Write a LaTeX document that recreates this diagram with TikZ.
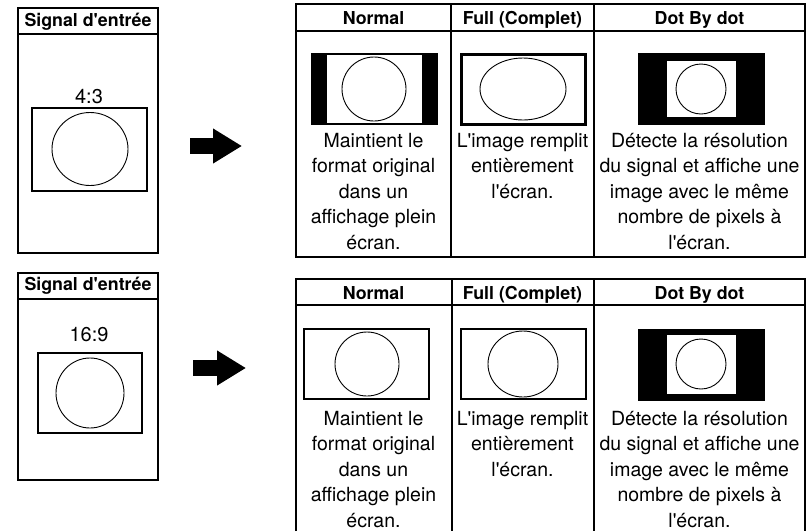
\documentclass[tikz,border=0pt]{standalone}
\usepackage{fontspec}
\setmainfont{TeX Gyre Heros}
\usetikzlibrary{arrows.meta}
\newcommand\ap{\textquotesingle}
\tikzset{
  hdr/.style={font=\bfseries\fontsize{17.8}{20}\selectfont, inner sep=0pt, anchor=base},
  txt/.style={font=\fontsize{19.5}{25.5}\selectfont, align=center, inner sep=0pt, anchor=north},
  rat/.style={font=\fontsize{20}{24}\selectfont, inner sep=0pt, anchor=base},
  frm/.style={draw=black, line width=1.7pt},
  scr/.style={draw=black, line width=2.4pt, fill=white},
  crc/.style={draw=black, line width=0.9pt},
  bigarr/.style={line width=16pt, -{Triangle[length=29pt,width=33pt]}}
}

\begin{document}
\begin{tikzpicture}[x=1pt, y=-1pt]
\useasboundingbox (0,0) rectangle (807,531);

% --- 4:3 input ---
\draw[frm] (18,8) rectangle (158,253) (18,34) -- (158,34);
\node[hdr] (sig1) at (88,26) {Signal d\ap entrée};
\node[rat] (rat1) at (89,103) {4:3};
\draw[scr] (32,108) rectangle (147,191);
\draw[crc] (90,149) ellipse [x radius=38, y radius=36.5];

\coordinate (a1s) at (190,146);
\coordinate (a1e) at (242,146);
\draw[bigarr] (a1s) -- (a1e);

% table 1
\draw[frm] (296,4) rectangle (805,257);
\draw[line width=2.4pt] (296,4) -- (805,4);
\draw[frm] (296,31) -- (805,31) (451,4) -- (451,257) (594,4) -- (594,257);
\node[hdr] (hN1) at (373.5,24) {Normal};
\node[hdr] (hF1) at (522.5,24) {Full (Complet)};
\node[hdr] (hD1) at (699.5,24) {Dot By dot};

\fill (311,53) rectangle (438,125);
\fill[white] (327,55) rectangle (422,123);
\draw[crc] (374,89) circle [radius=32];
\draw[scr, line width=3pt] (461,54) rectangle (585,124);
\draw[crc] (523,89) ellipse [x radius=43, y radius=31];
\fill (638,53) rectangle (765,125);
\fill[white] (667,61) rectangle (736,117);
\draw[crc] (701,89) circle [radius=25];

\node[txt] (tN1) at (373.5,133) {Maintient le\\format original\\dans un\\affichage plein\\écran.};
\node[txt] (tF1) at (522.5,133) {L\ap image remplit\\entièrement\\l\ap écran.};
\node[txt] (tD1) at (699.5,133) {Détecte la résolution\\du signal et affiche une\\image avec le même\\nombre de pixels à\\l\ap écran.};

% --- 16:9 input ---
\draw[frm] (18,273) rectangle (158,480) (18,299) -- (158,299);
\node[hdr] (sig2) at (88,290) {Signal d\ap entrée};
\node[rat] (rat2) at (89,341) {16:9};
\draw[scr] (38,353) rectangle (142,433);
\draw[crc] (90,393) ellipse [x radius=34, y radius=35];

\coordinate (a2s) at (193,368);
\coordinate (a2e) at (246,368);
\draw[bigarr] (a2s) -- (a2e);

% table 2
\draw[frm] (296,531) -- (296,279) -- (805,279) -- (805,531);
\draw[line width=2.4pt] (296,279) -- (805,279);
\draw[frm] (296,305) -- (805,305) (452,279) -- (452,531) (594,279) -- (594,531);
\node[hdr] (hN2) at (373.5,299) {Normal};
\node[hdr] (hF2) at (522.5,299) {Full (Complet)};
\node[hdr] (hD2) at (699.5,299) {Dot By dot};

\draw[scr] (304,329) rectangle (429,399);
\draw[crc] (367,364) circle [radius=32];
\draw[scr] (461,329) rectangle (586,399);
\draw[crc] (523,364) ellipse [x radius=35, y radius=33];
\fill (638,329) rectangle (765,401);
\fill[white] (667,335) rectangle (736,394);
\draw[crc] (701,364) circle [radius=25];

\node[txt] (tN2) at (373.5,411) {Maintient le\\format original\\dans un\\affichage plein\\écran.};
\node[txt] (tF2) at (522.5,411) {L\ap image remplit\\entièrement\\l\ap écran.};
\node[txt] (tD2) at (699.5,411) {Détecte la résolution\\du signal et affiche une\\image avec le même\\nombre de pixels à\\l\ap écran.};
\end{tikzpicture}
\end{document}
